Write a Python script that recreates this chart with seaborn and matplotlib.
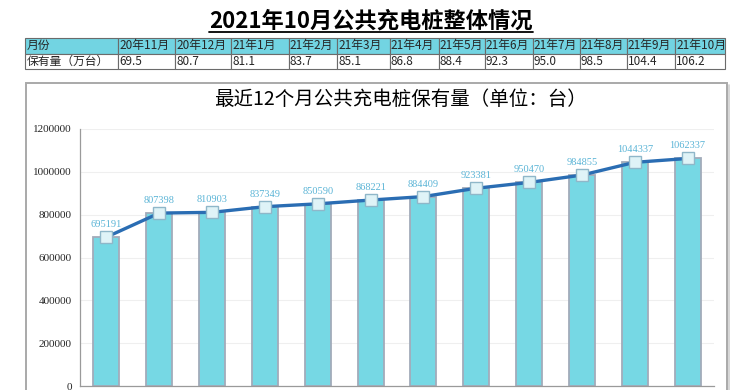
import matplotlib
matplotlib.use('Agg')
import matplotlib.pyplot as plt
import seaborn as sns
import numpy as np
import pandas as pd
from matplotlib.patches import Rectangle
from matplotlib.lines import Line2D

# Data
months = ['20年11月', '20年12月', '21年1月', '21年2月', '21年3月', '21年4月',
          '21年5月', '21年6月', '21年7月', '21年8月', '21年9月', '21年10月']
stock_wan = ['69.5', '80.7', '81.1', '83.7', '85.1', '86.8',
             '88.4', '92.3', '95.0', '98.5', '104.4', '106.2']
stock = [695191, 807398, 810903, 837349, 850590, 868221,
         884409, 923381, 950470, 984855, 1044337, 1062337]
yticks = [0, 200000, 400000, 600000, 800000, 1000000, 1200000]

sns.set_style('white')
plt.rcParams['font.family'] = ['Noto Sans CJK SC', 'DejaVu Sans']

W, H = 744, 390
fig = plt.figure(figsize=(W / 100, H / 100), dpi=100)


def px_rect(x0, y0, x1, y1):
    # pixel box (top-left origin) -> figure fraction [l, b, w, h]
    return [x0 / W, 1 - y1 / H, (x1 - x0) / W, (y1 - y0) / H]


# Page title (bold, underlined)
title = fig.text(371 / W, 1 - 28 / H, '2021年10月公共充电桩整体情况', ha='center',
                 va='baseline', fontsize=16, fontweight='bold', color='black')
fig.canvas.draw()
bb = title.get_window_extent().transformed(fig.transFigure.inverted())
fig.add_artist(Line2D([bb.x0, bb.x1], [1 - 32 / H, 1 - 32 / H],
                      transform=fig.transFigure, color='black', lw=1.3))

# Summary table
bounds = [25, 118, 175, 231, 289, 337, 390, 439, 485, 533, 580, 627, 675, 725]
tax = fig.add_axes(px_rect(25, 38, 725, 69))
tax.axis('off')
col_w = np.diff(bounds) / (bounds[-1] - bounds[0])
tbl = tax.table(cellText=[['月份'] + months, ['保有量（万台）'] + stock_wan],
                colWidths=list(col_w), cellLoc='left', bbox=[0, 0, 1, 1])
tbl.auto_set_font_size(False)
for (r, c), cell in tbl.get_celld().items():
    cell.set_fontsize(8.5)
    cell.set_edgecolor('#6b6b6b')
    cell.set_linewidth(0.8)
    cell.PAD = 0.02
    cell.set_facecolor('#72d4e2' if r == 0 else 'white')

# Chart frame
fig.add_artist(Rectangle((26 / W, 1 - 400 / H), (727 - 26) / W, (400 - 83) / H,
                         transform=fig.transFigure, fill=False,
                         edgecolor='#a9a9a9', lw=1.4))
fig.add_artist(Line2D([729 / W, 729 / W], [0, 1 - 85 / H], transform=fig.transFigure,
                      color='#d0d0d0', lw=1.2))

fig.text(400 / W, 1 - 99 / H, '最近12个月公共充电桩保有量（单位：台）', ha='center',
         va='center', fontsize=14, color='black')

# Main chart
ax = fig.add_axes(px_rect(80, 129, 714, 386))
df = pd.DataFrame({'month': months, 'stock': stock})
sns.barplot(data=df, x='month', y='stock', color='#76d8e4', saturation=1,
            width=0.49, edgecolor='#a3abba', linewidth=1.3, ax=ax)
x = np.arange(len(months))
ax.plot(x, stock, color='#2a6db3', lw=2.4, marker='s', markersize=8,
        markerfacecolor='#dff3f7', markeredgecolor='#8fb7c9', markeredgewidth=1, zorder=5)
for xi, v in zip(x, stock):
    ax.annotate(str(v), (xi, v), xytext=(0, 9), textcoords='offset points',
                ha='center', va='center', fontsize=7.5, color='#5ab4d6',
                family='Liberation Serif', zorder=6)

ax.set_ylim(0, 1200000)
ax.set_xlim(-0.5, len(months) - 0.5)
ax.set_yticks(yticks)
ax.set_yticklabels([str(t) for t in yticks], family='Liberation Serif', fontsize=8)
ax.tick_params(axis='y', length=0, pad=6)
ax.set_xticks([])
ax.set_xlabel('')
ax.set_ylabel('')
ax.grid(axis='y', color='#efefef', lw=0.8)
ax.set_axisbelow(True)
for s in ['top', 'right']:
    ax.spines[s].set_visible(False)
for s in ['left', 'bottom']:
    ax.spines[s].set_color('#9a9a9a')
    ax.spines[s].set_linewidth(0.9)

fig.savefig('out.png', dpi=100)
